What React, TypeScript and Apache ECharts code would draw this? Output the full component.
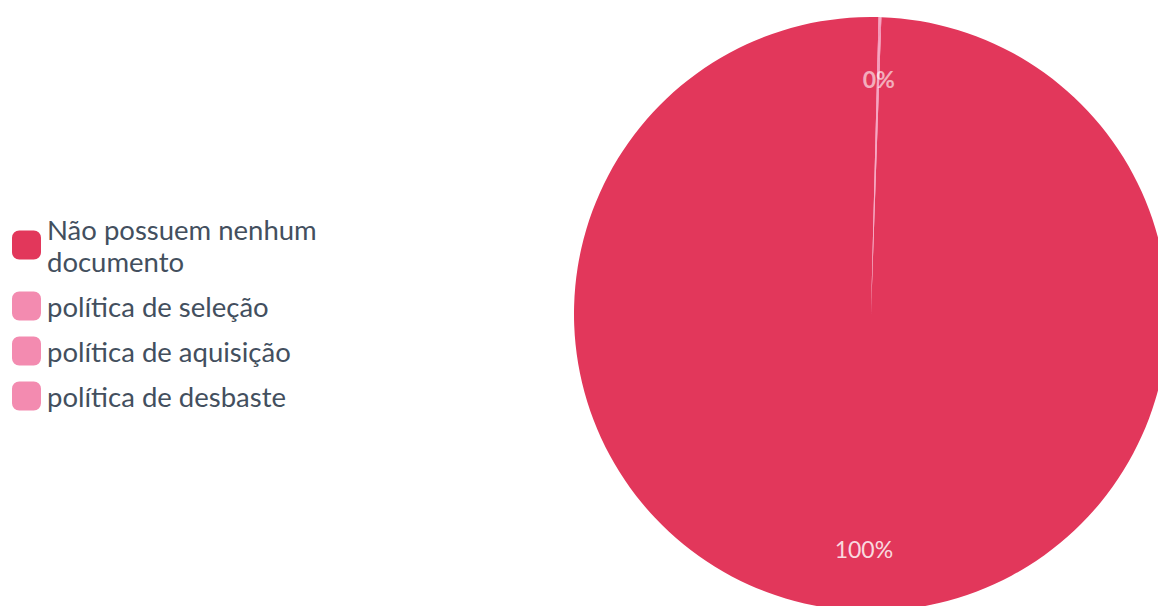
import React, { useEffect, useRef } from "react";
import * as echarts from "echarts";

const categories = [
  "Não possuem nenhum documento",
  "política de seleção",
  "política de aquisição",
  "política de desbaste",
];
const values = [2000, 1, 1, 1];
const colors = ["#e2375b", "#f38bb0", "#f38bb0", "#f38bb0"];

export default function App() {
  const ref = useRef<HTMLDivElement>(null);
  useEffect(() => {
    document.body.style.margin = "0";
    const chart = echarts.init(ref.current!, null, { renderer: "svg" });
    const data = categories.map((name, i) => ({
      name,
      value: values[i],
      itemStyle: { color: colors[i] },
    }));
    chart.setOption({
      animation: false,
      legend: {
        orient: "vertical",
        left: 7,
        top: 208,
        itemWidth: 29,
        itemHeight: 29,
        itemGap: 13,
        icon: "roundRect",
        data: categories,
        formatter: (n: string) =>
          n === categories[0] ? "Não possuem nenhum\ndocumento" : n,
        textStyle: {
          fontFamily: "Lato",
          fontSize: 27.5,
          lineHeight: 32,
          color: "#434f5e",
          padding: [0, 0, 0, 1],
        },
      },
      series: [
        {
          type: "pie",
          center: [871, 314],
          radius: [0, 297],
          startAngle: 88,
          clockwise: true,
          label: { show: false },
          labelLine: { show: false },
          itemStyle: { borderWidth: 0 },
          emphasis: { disabled: true },
          data,
        },
        {
          type: "pie",
          center: [871, 314],
          radius: [168, 297],
          startAngle: 88,
          clockwise: true,
          silent: true,
          percentPrecision: 0,
          itemStyle: { color: "rgba(0,0,0,0)", borderWidth: 0 },
          label: {
            show: true,
            position: "inside",
            formatter: "{d}%",
            fontFamily: "Lato",
            fontSize: 23,
            color: "rgba(255,255,255,0.82)",
          },
          labelLine: { show: false },
          emphasis: { disabled: true },
          data: categories.map((name, i) => ({
            name,
            value: values[i],
            label: i === 0 ? {} : { fontWeight: "bold", color: "rgba(255,255,255,0.6)" },
          })),
        },
      ],
    });
    return () => chart.dispose();
  }, []);
  return <div ref={ref} style={{ width: 1158, height: 606 }} />;
}
